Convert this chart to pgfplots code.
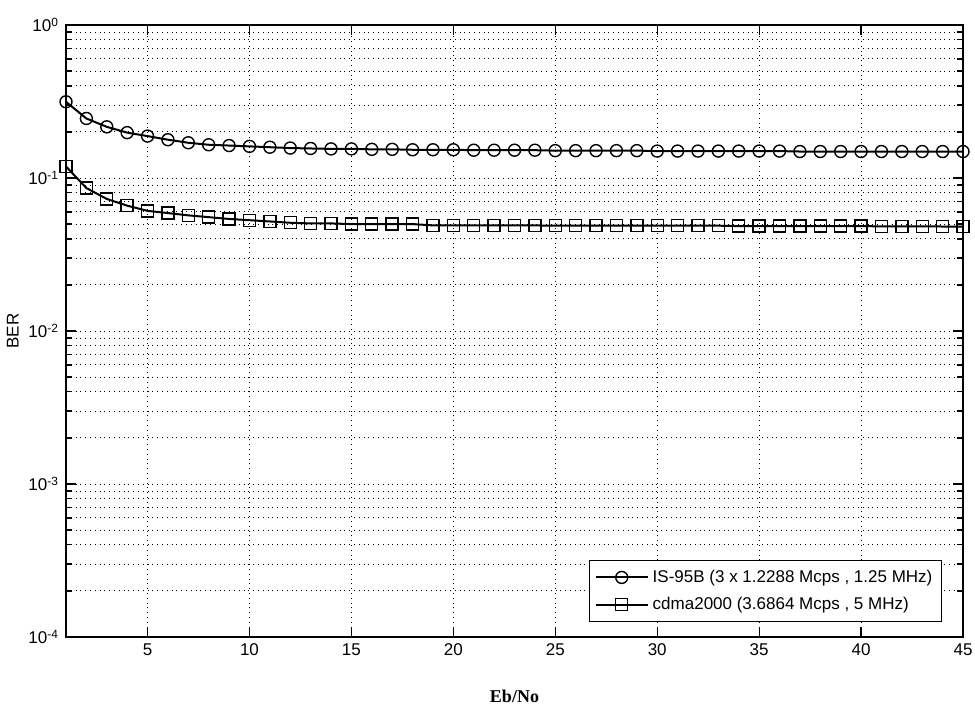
\documentclass[border=0pt]{standalone}
\usepackage{fontspec}
\setmainfont{Liberation Sans}
\newfontfamily\labelfont{Liberation Serif}
\usepackage{pgfplots}
\pgfplotsset{compat=1.18}

\pgfplotstableread{
x ber
1 0.315
2 0.245
3 0.216
4 0.198
5 0.188
6 0.178
7 0.170
8 0.165
9 0.163
10 0.161
11 0.159
12 0.157
13 0.156
14 0.155
15 0.155
16 0.154
17 0.154
18 0.153
19 0.153
20 0.153
21 0.152
22 0.152
23 0.152
24 0.152
25 0.151
26 0.151
27 0.151
28 0.151
29 0.151
30 0.150
31 0.150
32 0.150
33 0.150
34 0.150
35 0.150
36 0.150
37 0.149
38 0.149
39 0.149
40 0.149
41 0.149
42 0.149
43 0.149
44 0.149
45 0.149
}\isninetyfive

\pgfplotstableread{
x ber
1 0.119
2 0.086
3 0.073
4 0.066
5 0.061
6 0.059
7 0.057
8 0.0555
9 0.054
10 0.053
11 0.052
12 0.051
13 0.0505
14 0.0505
15 0.0500
16 0.0500
17 0.0500
18 0.0500
19 0.0490
20 0.0490
21 0.0490
22 0.0490
23 0.0490
24 0.0490
25 0.0488
26 0.0488
27 0.0488
28 0.0488
29 0.0488
30 0.0488
31 0.0488
32 0.0488
33 0.0488
34 0.0485
35 0.0485
36 0.0485
37 0.0485
38 0.0485
39 0.0485
40 0.0485
41 0.0483
42 0.0483
43 0.0483
44 0.0482
45 0.0481
}\cdmatwok

\begin{document}
\begin{tikzpicture}
\path[use as bounding box] (-33pt,-35.5pt) rectangle (454.5pt,318.5pt);
\begin{axis}[
  scale only axis, width=448.5pt, height=306pt,
  ymode=log, xmin=1, xmax=45, ymin=1e-4, ymax=1,
  xtick={5,10,...,45},
  ytick={1e-4,1e-3,1e-2,1e-1,1},
  yticklabels={10\textsuperscript{-4},10\textsuperscript{-3},10\textsuperscript{-2},10\textsuperscript{-1},10\textsuperscript{0}},
  /pgf/number format/assume math mode=true,
  grid=both,
  major grid style={black, dotted, line width=0.5pt},
  minor grid style={black, dotted, line width=0.5pt},
  axis line style={line width=0.8pt},
  tick style={black, line width=0.6pt},
  major tick length=5pt, minor tick length=3pt,
  tick label style={font=\fontsize{8.5}{10}\selectfont},
  xlabel={\labelfont\bfseries Eb/No}, xlabel style={font=\fontsize{9}{11}\selectfont, yshift=-10pt},
  ylabel={BER}, ylabel style={font=\fontsize{8.5}{10}\selectfont, yshift=-2pt},
  legend style={at={(0.9766,0.0245)}, anchor=south east, draw=black, line width=0.6pt,
    font=\fontsize{8.5}{10}\selectfont, row sep=2pt, inner sep=2.5pt},
  legend cell align=left,
  legend image code/.code={\draw[mark repeat=2,mark phase=2,#1] plot coordinates {(0pt,0pt) (13pt,0pt) (26pt,0pt)};},
]
\addplot[black, line width=1pt, mark=o, mark size=3pt, mark options={line width=0.7pt}] table[x=x,y=ber] {\isninetyfive};
\addlegendentry{IS-95B (3 x 1.2288 Mcps , 1.25 MHz)}
\addplot[black, line width=1pt, mark=square, mark size=3pt, mark options={line width=0.7pt}] table[x=x,y=ber] {\cdmatwok};
\addlegendentry{cdma2000 (3.6864 Mcps , 5 MHz)}
\end{axis}
\end{tikzpicture}
\end{document}
